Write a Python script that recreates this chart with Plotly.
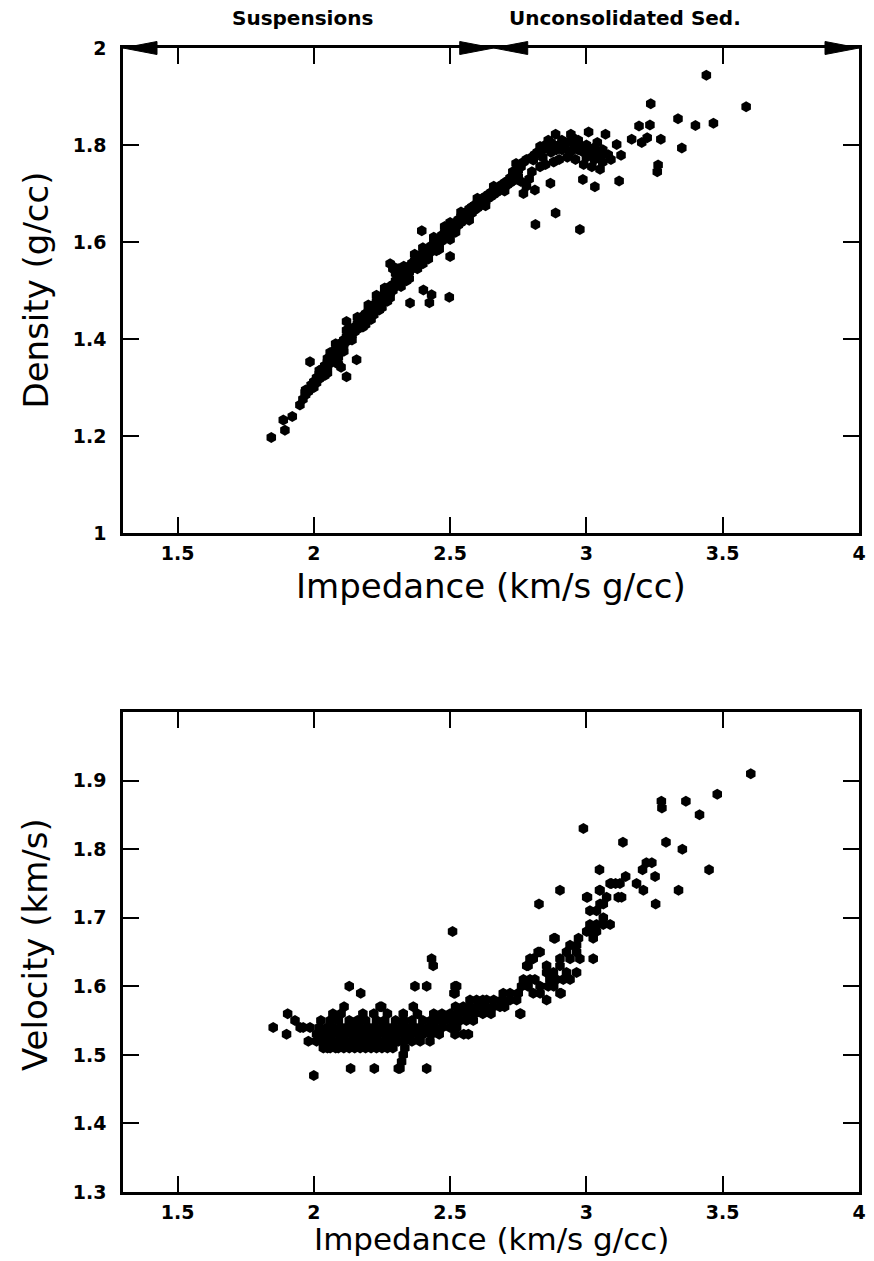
import plotly.graph_objects as go

# ---------------- data: top panel (Density vs Impedance) ----------------
density_band = [
    (1.96, 1.276), (1.97, 1.285), (1.97, 1.295), (1.98, 1.292), (1.99, 1.298), (1.99, 1.305),
    (2.00, 1.300), (2.00, 1.312), (2.01, 1.310), (2.01, 1.320), (2.02, 1.318), (2.02, 1.328),
    (2.03, 1.325), (2.03, 1.338), (2.04, 1.335), (2.04, 1.345), (2.05, 1.342), (2.05, 1.352),
    (2.05, 1.360), (2.06, 1.350), (2.06, 1.362), (2.07, 1.360), (2.07, 1.372), (2.07, 1.365),
    (2.08, 1.368), (2.08, 1.378), (2.08, 1.356), (2.09, 1.372), (2.09, 1.382), (2.09, 1.348),
    (2.10, 1.380), (2.10, 1.392), (2.10, 1.342), (2.11, 1.388), (2.11, 1.398), (2.12, 1.395),
    (2.12, 1.405), (2.13, 1.400), (2.13, 1.412), (2.13, 1.420), (2.14, 1.408), (2.14, 1.420),
    (2.15, 1.415), (2.15, 1.425), (2.16, 1.420), (2.16, 1.432), (2.17, 1.428), (2.17, 1.440),
    (2.18, 1.435), (2.18, 1.447), (2.19, 1.442), (2.19, 1.452), (2.19, 1.430), (2.20, 1.448),
    (2.20, 1.458), (2.21, 1.452), (2.21, 1.465), (2.22, 1.460), (2.22, 1.470), (2.22, 1.450),
    (2.23, 1.465), (2.23, 1.478), (2.24, 1.470), (2.24, 1.482), (2.24, 1.460), (2.25, 1.476),
    (2.25, 1.488), (2.26, 1.482), (2.26, 1.495), (2.27, 1.490), (2.27, 1.500), (2.27, 1.478),
    (2.28, 1.495), (2.28, 1.508), (2.28, 1.555), (2.29, 1.500), (2.29, 1.512), (2.29, 1.545),
    (2.30, 1.508), (2.30, 1.520), (2.30, 1.535), (2.31, 1.512), (2.31, 1.525), (2.31, 1.545),
    (2.32, 1.520), (2.32, 1.532), (2.33, 1.526), (2.33, 1.538), (2.34, 1.532), (2.34, 1.545),
    (2.34, 1.520), (2.35, 1.538), (2.35, 1.550), (2.36, 1.545), (2.36, 1.556), (2.37, 1.550),
    (2.37, 1.562), (2.38, 1.555), (2.38, 1.566), (2.39, 1.560), (2.39, 1.572), (2.40, 1.564),
    (2.40, 1.576), (2.40, 1.555), (2.41, 1.570), (2.41, 1.582), (2.42, 1.576), (2.42, 1.586),
    (2.43, 1.580), (2.43, 1.592), (2.44, 1.586), (2.44, 1.598), (2.45, 1.590), (2.45, 1.602),
    (2.45, 1.582), (2.46, 1.596), (2.46, 1.608), (2.47, 1.602), (2.47, 1.614), (2.48, 1.608),
    (2.48, 1.620), (2.49, 1.612), (2.49, 1.625), (2.50, 1.618), (2.50, 1.630), (2.50, 1.605),
    (2.51, 1.624), (2.51, 1.636), (2.52, 1.630), (2.52, 1.640), (2.53, 1.635), (2.53, 1.646),
    (2.54, 1.640), (2.54, 1.652), (2.55, 1.645), (2.55, 1.658), (2.56, 1.650), (2.56, 1.662),
    (2.57, 1.656), (2.57, 1.668), (2.58, 1.660), (2.58, 1.672), (2.59, 1.666), (2.59, 1.676),
    (2.60, 1.670), (2.60, 1.680), (2.61, 1.675), (2.61, 1.686), (2.62, 1.680), (2.62, 1.690),
    (2.63, 1.684), (2.63, 1.694), (2.64, 1.690), (2.64, 1.698), (2.65, 1.694), (2.65, 1.702),
    (2.66, 1.698), (2.66, 1.706), (2.67, 1.702), (2.67, 1.710), (2.68, 1.706), (2.68, 1.714),
    (2.69, 1.710), (2.69, 1.718), (2.70, 1.714), (2.70, 1.722), (2.71, 1.718), (2.71, 1.726),
    (2.72, 1.722), (2.72, 1.732), (2.73, 1.726), (2.73, 1.736), (2.74, 1.730), (2.74, 1.742),
    (2.75, 1.735), (2.75, 1.748),
]

density_band_edges = [
    (2.02, 1.335), (2.04, 1.325), (2.05, 1.330), (2.06, 1.372), (2.08, 1.390), (2.09, 1.362),
    (2.11, 1.375), (2.12, 1.418), (2.14, 1.398), (2.16, 1.445), (2.18, 1.425), (2.20, 1.470),
    (2.21, 1.440), (2.23, 1.490), (2.25, 1.465), (2.26, 1.505), (2.28, 1.485), (2.32, 1.508),
    (2.33, 1.550), (2.35, 1.525), (2.37, 1.575), (2.38, 1.545), (2.40, 1.588), (2.42, 1.565),
    (2.44, 1.610), (2.46, 1.585), (2.48, 1.632), (2.50, 1.640), (2.52, 1.620), (2.54, 1.662),
    (2.57, 1.645), (2.60, 1.690), (2.63, 1.675), (2.66, 1.715), (2.70, 1.705), (2.73, 1.745),
]

density_upper = [
    (2.742, 1.762), (2.76, 1.755), (2.77, 1.765), (2.78, 1.770), (2.80, 1.775), (2.805, 1.769),
    (2.81, 1.780), (2.82, 1.785), (2.83, 1.797), (2.84, 1.790), (2.85, 1.800), (2.86, 1.795),
    (2.87, 1.805), (2.887, 1.822), (2.88, 1.800), (2.89, 1.790), (2.90, 1.800), (2.91, 1.810),
    (2.92, 1.795), (2.93, 1.805), (2.943, 1.822), (2.95, 1.790), (2.96, 1.800), (2.97, 1.810),
    (2.98, 1.795), (2.99, 1.785), (3.008, 1.827), (3.00, 1.800), (3.01, 1.790), (3.02, 1.780),
    (3.03, 1.795), (3.04, 1.785), (3.05, 1.775), (3.06, 1.790), (3.07, 1.822), (3.08, 1.780),
    (3.09, 1.770), (3.111, 1.801), (3.127, 1.779), (2.80, 1.745), (2.79, 1.730), (2.83, 1.755),
    (2.85, 1.760), (2.88, 1.765), (2.90, 1.770), (2.93, 1.775), (2.96, 1.770), (2.99, 1.760),
    (3.02, 1.755), (3.05, 1.750), (2.78, 1.715), (2.76, 1.725), (2.84, 1.775), (2.87, 1.785),
    (2.91, 1.790), (2.94, 1.785), (2.97, 1.790), (3.00, 1.775), (3.03, 1.770), (3.06, 1.765),
    (2.86, 1.810), (2.95, 1.815), (3.04, 1.805),
]

density_outliers = [
    (1.844, 1.197), (1.888, 1.233), (1.894, 1.212), (1.921, 1.240), (1.949, 1.264),
    (1.968, 1.290), (1.986, 1.353), (2.120, 1.322), (2.157, 1.357), (2.120, 1.436),
    (2.291, 1.549), (2.353, 1.474), (2.402, 1.501), (2.432, 1.491), (2.424, 1.475),
    (2.497, 1.486), (2.396, 1.623), (2.500, 1.570), (2.987, 1.729), (3.031, 1.714),
    (3.120, 1.726), (2.868, 1.721), (2.887, 1.660), (2.813, 1.636), (2.976, 1.626),
    (2.811, 1.707), (2.769, 1.700), (3.166, 1.812), (3.193, 1.839), (3.203, 1.805),
    (3.223, 1.815), (3.233, 1.841), (3.273, 1.812), (3.263, 1.759), (3.260, 1.745),
    (3.236, 1.885), (3.336, 1.854), (3.350, 1.794), (3.400, 1.840), (3.466, 1.845),
    (3.586, 1.879), (3.440, 1.944),
]

# ---------------- data: bottom panel (Velocity vs Impedance) ----------------
# velocity (km/s) -> impedances (km/s g/cc) of the points on that velocity row
velocity_rows = {
    1.47: [2.00],
    1.48: [2.135, 2.222, 2.31, 2.414, 2.316],
    1.49: [2.322],
    1.50: [2.328],
    1.51: [2.035, 2.05, 2.06, 2.08, 2.09, 2.11, 2.13, 2.15, 2.17, 2.19, 2.21, 2.23, 2.25, 2.27, 2.29, 2.334],
    1.52: [1.98, 2.01, 2.03, 2.05, 2.07, 2.10, 2.12, 2.14, 2.17, 2.19, 2.22, 2.24, 2.26, 2.28, 2.31, 2.33,
           2.36, 2.39, 2.426],
    1.53: [1.90, 2.01, 2.04, 2.06, 2.09, 2.11, 2.14, 2.16, 2.18, 2.21, 2.23, 2.26, 2.28, 2.30, 2.33, 2.35,
           2.38, 2.40, 2.43, 2.46, 2.518, 2.55, 2.567],
    1.54: [1.851, 1.95, 1.961, 1.986, 2.02, 2.05, 2.07, 2.10, 2.12, 2.145, 2.17, 2.20, 2.22, 2.25, 2.27,
           2.29, 2.32, 2.34, 2.37, 2.39, 2.42, 2.44, 2.47, 2.50, 2.524],
    1.55: [1.931, 2.026, 2.06, 2.09, 2.13, 2.16, 2.19, 2.23, 2.26, 2.30, 2.33, 2.36, 2.40, 2.43, 2.45, 2.48,
           2.51, 2.536, 2.56, 2.585],
    1.56: [1.904, 2.07, 2.10, 2.18, 2.22, 2.27, 2.328, 2.38, 2.44, 2.47, 2.50, 2.53, 2.56, 2.59, 2.62, 2.65,
           2.756, 2.759],
    1.57: [2.111, 2.243, 2.249, 2.365, 2.52, 2.548, 2.573, 2.60, 2.63, 2.658, 2.683, 2.70],
    1.58: [2.573, 2.597, 2.62, 2.634, 2.66, 2.69, 2.72, 2.744, 2.854],
    1.59: [2.172, 2.514, 2.518, 2.695, 2.72, 2.75, 2.805, 2.83, 2.907, 2.903],
    1.60: [2.13, 2.371, 2.414, 2.518, 2.524, 2.762, 2.786, 2.83, 2.86, 2.88],
    1.61: [2.769, 2.793, 2.811, 2.866, 2.89, 2.915, 2.94],
    1.62: [2.854, 2.879, 2.927, 2.964],
    1.63: [2.438, 2.781, 2.786, 2.854, 2.903],
    1.64: [2.432, 2.805, 2.793, 2.903, 2.94, 2.976, 3.025],
    1.65: [2.823, 2.83, 2.927, 2.964],
    1.66: [2.94, 2.964],
    1.67: [2.881, 2.885, 2.971, 3.025],
    1.68: [2.509, 3.001, 3.013, 3.037],
    1.69: [3.013, 3.037, 3.087, 3.062],
    1.70: [3.062],
    1.71: [3.013, 3.037],
    1.72: [2.826, 3.05, 3.062, 3.254],
    1.73: [3.004, 3.001, 3.074, 3.117, 3.129],
    1.74: [2.903, 3.048, 3.05, 3.209, 3.338],
    1.75: [3.087, 3.107, 3.184, 3.092, 3.123],
    1.76: [3.144, 3.252],
    1.77: [3.048, 3.206, 3.45],
    1.78: [3.22, 3.24],
    1.80: [3.352],
    1.81: [3.134, 3.292],
    1.83: [2.989],
    1.85: [3.415],
    1.86: [3.277],
    1.87: [3.275, 3.365],
    1.88: [3.48],
    1.91: [3.603],
}

x_ticks = [1.5, 2, 2.5, 3, 3.5, 4]
x_tick_text = ["1.5", "2", "2.5", "3", "3.5", "4"]
dens_ticks = [1, 1.2, 1.4, 1.6, 1.8, 2]
dens_tick_text = ["1", "1.2", "1.4", "1.6", "1.8", "2"]
vel_ticks = [1.3, 1.4, 1.5, 1.6, 1.7, 1.8, 1.9]
vel_tick_text = ["1.3", "1.4", "1.5", "1.6", "1.7", "1.8", "1.9"]

zone_boundary = 2.66  # Suspensions / Unconsolidated Sed. boundary
zone_labels = [("Suspensions", 1.96), ("Unconsolidated Sed.", 3.14)]

# ---------------- build figure ----------------
W, H = 874, 1261
top_pts = density_band + density_band_edges + density_upper + density_outliers
tx = [p[0] for p in top_pts]
ty = [p[1] for p in top_pts]
bx, by = [], []
for v, imps in velocity_rows.items():
    for imp in imps:
        bx.append(imp)
        by.append(v)

marker = dict(symbol="hexagon", size=11, color="black", line=dict(width=0))
fig = go.Figure()
fig.add_trace(go.Scatter(x=tx, y=ty, mode="markers", marker=marker, xaxis="x", yaxis="y",
                         showlegend=False, hoverinfo="skip"))
fig.add_trace(go.Scatter(x=bx, y=by, mode="markers", marker=marker, xaxis="x2", yaxis="y2",
                         showlegend=False, hoverinfo="skip"))

xdom = [123 / W, 859 / W]
ydom_top = [1 - 533 / H, 1 - 48 / H]
ydom_bot = [1 - 1192 / H, 1 - 712 / H]

tickfont = dict(family="DejaVu Sans", size=19, color="black", weight="bold")
common = dict(showline=True, linewidth=2.5, linecolor="black", mirror="ticks", ticks="inside",
              ticklen=16, tickwidth=2, tickcolor="black", showgrid=False, zeroline=False,
              tickfont=tickfont, automargin=False, fixedrange=True)

fig.update_layout(
    width=W, height=H, margin=dict(l=0, r=0, t=0, b=0),
    paper_bgcolor="white", plot_bgcolor="white",
    xaxis=dict(domain=xdom, range=[1.3, 4], anchor="y", tickvals=x_ticks, ticktext=x_tick_text,
               ticklabelstandoff=1, **common),
    yaxis=dict(domain=ydom_top, range=[1, 2], anchor="x", tickvals=dens_ticks, ticktext=dens_tick_text,
               ticklabelstandoff=10, **common),
    xaxis2=dict(domain=xdom, range=[1.3, 4], anchor="y2", tickvals=x_ticks, ticktext=x_tick_text,
                ticklabelstandoff=1, **common),
    yaxis2=dict(domain=ydom_bot, range=[1.3, 2.0], anchor="x2", tickvals=vel_ticks,
                ticktext=vel_tick_text, ticklabelstandoff=10, **common),
)

title_font = dict(family="DejaVu Sans", size=34, color="black")
title_font_b = dict(family="DejaVu Sans", size=31, color="black")
ann = [
    dict(text="Impedance (km/s g/cc)", xref="paper", yref="paper", x=(xdom[0] + xdom[1]) / 2,
         y=1 - 564 / H, showarrow=False, font=title_font, xanchor="center", yanchor="top"),
    dict(text="Impedance (km/s g/cc)", xref="paper", yref="paper", x=(xdom[0] + xdom[1]) / 2,
         y=1 - 1239 / H, showarrow=False, font=title_font_b, xanchor="center", yanchor="middle"),
    dict(text="Density (g/cc)", xref="paper", yref="paper", x=35 / W, y=(ydom_top[0] + ydom_top[1]) / 2,
         showarrow=False, font=title_font, textangle=-90, xanchor="center", yanchor="middle"),
    dict(text="Velocity (km/s)", xref="paper", yref="paper", x=35 / W, y=1 - 945 / H,
         showarrow=False, font=title_font, textangle=-90, xanchor="center", yanchor="middle"),
]
for label, xpos in zone_labels:
    ann.append(dict(text=label, xref="x", yref="paper", x=xpos, y=1 - 18 / H, showarrow=False,
                    font=dict(family="DejaVu Sans", size=20, color="black", weight="bold"),
                    xanchor="center", yanchor="middle"))
fig.update_layout(annotations=ann)

# arrowheads on the top frame line (zone indicator)
head_left = "M0,0 L34,6.5 L34,-6.5 Z"
head_right = "M0,0 L-34,6.5 L-34,-6.5 Z"
shapes = []
for xa, p in [(1.3, head_left), (zone_boundary, head_right), (zone_boundary, head_left), (4.0, head_right)]:
    shapes.append(dict(type="path", xref="x", yref="y domain", xsizemode="pixel", ysizemode="pixel",
                       xanchor=xa, yanchor=1, path=p, fillcolor="black", line=dict(color="black", width=1),
                       layer="above"))
fig.update_layout(shapes=shapes)

fig.write_html("out.html")
